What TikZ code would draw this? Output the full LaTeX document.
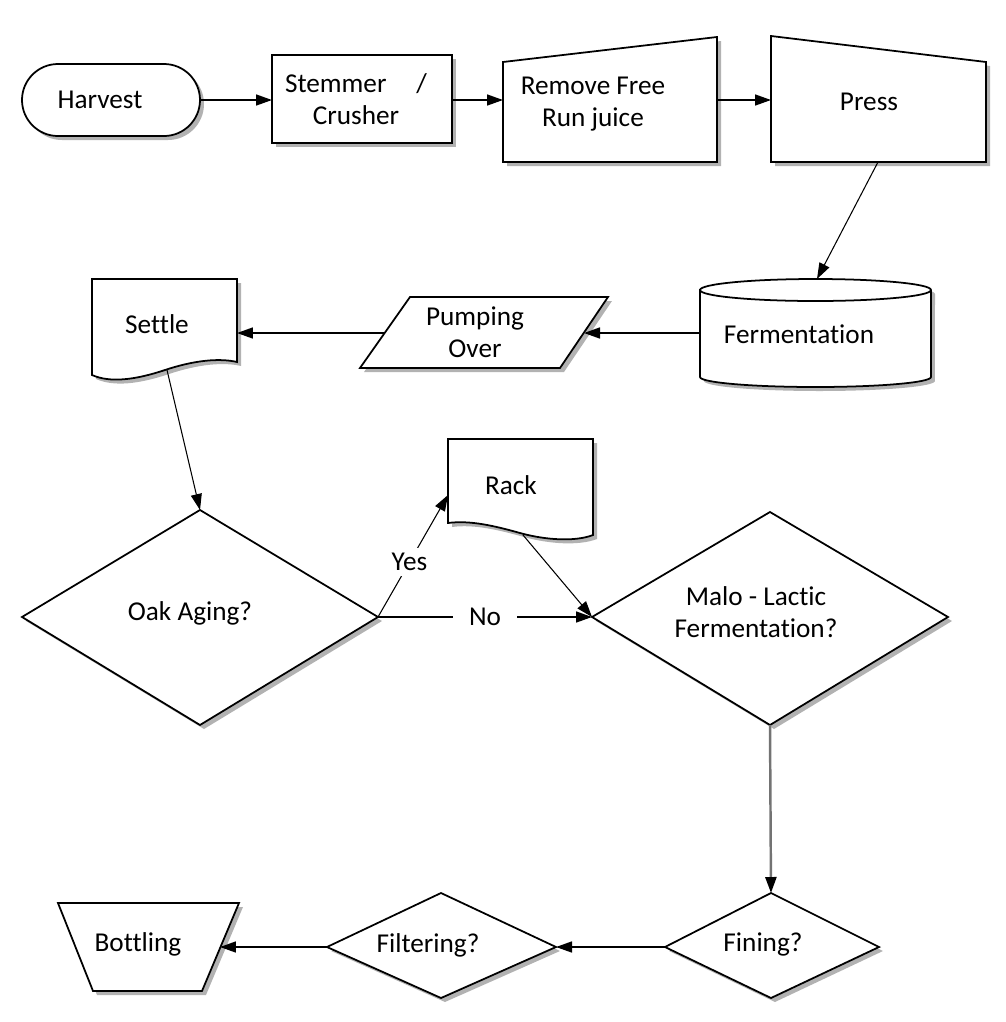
\documentclass[tikz,border=0pt]{standalone}
\usepackage{fontspec}
\setmainfont{Carlito}[Ligatures=NoCommon]
\usetikzlibrary{arrows.meta,shadows}
\tikzset{
  box/.style={draw=black, line width=1pt, fill=white,
    drop shadow={shadow xshift=0.8mm, shadow yshift=-0.8mm, fill=black!30, opacity=1}},
  lbl/.style={font=\fontsize{15.5}{18.2}\selectfont, align=center, inner sep=1pt},
  flow/.style={line width=0.9pt, -{Triangle[length=3.2mm,width=2.2mm]}},
  thinflow/.style={line width=0.6pt, -{Triangle[length=3.2mm,width=2.2mm]}},
}
\begin{document}
\begin{tikzpicture}[x=0.02cm, y=-0.02cm]
\useasboundingbox (0,0) rectangle (1006,1022);

% top row
\draw[box, rounded corners=0.72cm] (22,64) rectangle (200,136);
\node[lbl] (harvest) at (100,100) {Harvest};
\draw[box] (272,55) rectangle (452,143);
\node[lbl] (stemmer) at (356,99) {Stemmer\hspace{1.1em}/\\Crusher};
\draw[box] (503,62) -- (717,37) -- (717,162) -- (503,162) -- cycle;
\node[lbl] (remove) at (593,104) {Remove Free\\Run juice};
\draw[box] (771,36) -- (986,62) -- (986,162) -- (771,162) -- cycle;
\node[lbl] (press) at (869,102) {Press};

\coordinate (harvest-e) at (200,100);
\coordinate (stemmer-w) at (272,100);
\coordinate (stemmer-e) at (452,100);
\coordinate (remove-w) at (503,100);
\coordinate (remove-e) at (717,100);
\coordinate (press-w) at (771,100);
\coordinate (press-s) at (878,162);

% second row
\draw[box] (700,290) -- (700,377) arc[start angle=180, end angle=360, x radius=2.31cm, y radius=0.2cm]
  -- (931,290) arc[start angle=0, end angle=180, x radius=2.31cm, y radius=0.22cm] -- cycle;
\draw[line width=1pt] (700,290) arc[start angle=180, end angle=360, x radius=2.31cm, y radius=0.22cm];
\node[lbl] (ferment) at (799,334) {Fermentation};
\draw[box] (410,297) -- (608,297) -- (560,368) -- (360,368) -- cycle;
\node[lbl] (pumping) at (475,332) {Pumping\\Over};
\draw[box] (92,279) -- (237,279) -- (237,362) .. controls (220,358) and (195,360) .. (165,370)
  .. controls (135,380) and (110,383) .. (92,375) -- cycle;
\node[lbl] (settle) at (157,324) {Settle};

\coordinate (ferment-n) at (817,279);
\coordinate (ferment-w) at (700,333);
\coordinate (pumping-e) at (584,333);
\coordinate (pumping-w) at (385,333);
\coordinate (settle-e) at (237,333);
\coordinate (settle-s) at (167,370);

% decisions
\draw[box] (22,617) -- (200,510) -- (378,617) -- (200,725) -- cycle;
\node[lbl] (oak) at (190,613) {Oak Aging?};
\draw[box] (448,439) -- (593,439) -- (593,535) .. controls (575,542) and (545,540) .. (520,533)
  .. controls (495,526) and (470,520) .. (448,523) -- cycle;
\node[lbl] (rack) at (511,485) {Rack};
\draw[box] (592,617) -- (770,512) -- (948,617) -- (770,725) -- cycle;
\node[lbl] (malo) at (756,612) {Malo - Lactic\\Fermentation?};

\coordinate (oak-n) at (200,510);
\coordinate (oak-e) at (378,617);
\coordinate (rack-w) at (448,495);
\coordinate (rack-s) at (523,535);
\coordinate (malo-w) at (592,617);
\coordinate (malo-s) at (770,725);

% bottom row
\draw[box] (665,947) -- (771,893) -- (879,947) -- (771,998) -- cycle;
\node[lbl] (fining) at (763,944) {Fining?};
\draw[box] (327,947) -- (441,893) -- (556,947) -- (441,998) -- cycle;
\node[lbl] (filtering) at (428,945) {Filtering?};
\draw[box] (58,903) -- (239,903) -- (202,991) -- (93,991) -- cycle;
\node[lbl] (bottling) at (138,944) {Bottling};

\coordinate (fining-n) at (771,893);
\coordinate (fining-w) at (665,947);
\coordinate (filtering-e) at (556,947);
\coordinate (filtering-w) at (327,947);
\coordinate (bottling-e) at (220,947);

% connectors
\draw[flow] (harvest-e) -- (stemmer-w);
\draw[flow] (stemmer-e) -- (remove-w);
\draw[flow] (remove-e) -- (press-w);
\draw[thinflow] (press-s) -- (ferment-n);
\draw[flow] (ferment-w) -- (pumping-e);
\draw[flow] (pumping-w) -- (settle-e);
\draw[thinflow] (settle-s) -- (oak-n);
\draw[thinflow] (oak-e) -- node[lbl, pos=0.45, fill=white, inner sep=3pt] {Yes} (rack-w);
\draw[flow] (oak-e) -- node[lbl, fill=white, inner xsep=9pt] {No} (malo-w);
\draw[thinflow] (rack-s) -- (malo-w);
\draw[line width=1.4pt, draw=black!55, -{Triangle[length=3.2mm,width=2.2mm,color=black]}] (malo-s) -- (fining-n);
\draw[flow] (fining-w) -- (filtering-e);
\draw[flow] (filtering-w) -- (bottling-e);
\end{tikzpicture}
\end{document}
